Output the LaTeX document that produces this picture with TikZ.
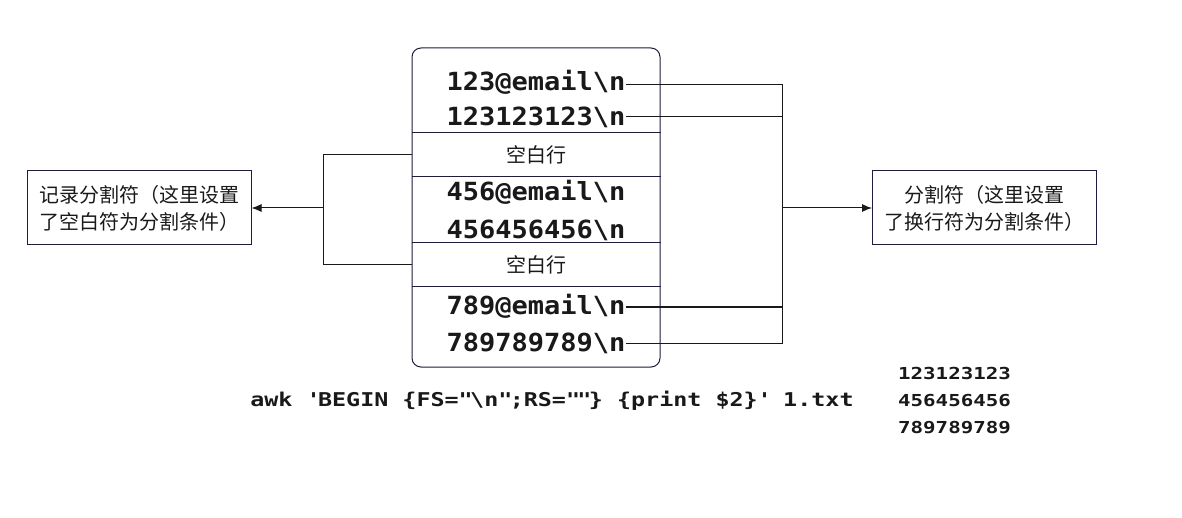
\documentclass[tikz,border=0pt]{standalone}
\usepackage{fontspec}
\usetikzlibrary{arrows.meta,calc}
\newfontfamily\cjk{Noto Sans CJK SC}
\newfontfamily\monoA[FakeStretch=1.08,UprightFont=*,BoldFont=* Bold]{DejaVu Sans Mono}
\newfontfamily\monoB[FakeStretch=1.23,UprightFont=*,BoldFont=* Bold]{DejaVu Sans Mono}
\newfontfamily\monoC[FakeStretch=1.26,UprightFont=*,BoldFont=* Bold]{DejaVu Sans Mono}
\definecolor{boxc}{RGB}{30,30,60}
\definecolor{txt}{RGB}{25,25,25}
\begin{document}
\begin{tikzpicture}[x=1pt,y=-1pt,
  boxline/.style={draw=boxc,line width=1pt},
  conn/.style={draw=txt,line width=1pt},
  arr/.style={conn,-{Latex[length=10pt,width=8pt]}},
  rowtxt/.style={font=\monoA\bfseries\fontsize{25}{25}\selectfont,text=txt,inner sep=0pt,text height=18pt,text depth=0pt},
  cjktxt/.style={font=\cjk\fontsize{20}{27}\selectfont,text=txt,align=center},
  sidebox/.style={boxline,minimum width=224pt,minimum height=74pt,inner sep=0pt},
  cmdtxt/.style={font=\monoB\bfseries\fontsize{19}{19}\selectfont,text=txt,inner sep=0pt},
  restxt/.style={font=\monoC\bfseries\fontsize{16.5}{16.5}\selectfont,text=txt,inner sep=0pt,text height=12pt,text depth=0pt}
]
\useasboundingbox[fill=white] (0,0) rectangle (1182,518);

% main box
\node[boxline,rounded corners=9pt,minimum width=248pt,minimum height=319pt,inner sep=0pt] (mainbox) at (536,207.5) {};
\foreach \yy in {133,177,243,287}{
  \draw[boxline] (mainbox.west |- 0,\yy) -- (mainbox.east |- 0,\yy);
}

% rows
\node[rowtxt] (r1) at (536,82) {123@email\textbackslash n};
\node[rowtxt] (r2) at (536,117) {123123123\textbackslash n};
\node[cjktxt] (b1) at (536,155) {空白行};
\node[rowtxt] (r3) at (536,192) {456@email\textbackslash n};
\node[rowtxt] (r4) at (536,230) {456456456\textbackslash n};
\node[cjktxt] (b2) at (536,265) {空白行};
\node[rowtxt] (r5) at (536,305) {789@email\textbackslash n};
\node[rowtxt] (r6) at (536,342) {789789789\textbackslash n};

% side boxes
\node[sidebox,cjktxt] (lbox) at (139,208) {记录分割符（这里设置\\了空白符为分割条件）};
\node[sidebox,cjktxt] (rbox) at (984.5,208) {分割符（这里设置\\了换行符为分割条件）};

% right bus
\coordinate (bus) at (782,208);
\draw[conn] ([yshift=-3pt]r1.east) -- ([yshift=-3pt]r1.east -| bus) -- ([yshift=-1pt]r6.east -| bus) -- ([yshift=-1pt]r6.east);
\draw[conn] (r2.east) -- (r2.east -| bus);
\draw[conn] ([yshift=-2pt]r5.east) -- ([yshift=-2pt]r5.east -| bus);
\draw[arr] (bus) -- (rbox.west);

% left bracket
\coordinate (lbus) at (323,208);
\draw[conn] (mainbox.west |- b1) -- (lbus |- b1) -- (lbus |- b2) -- (mainbox.west |- b2);
\draw[arr] (lbus) -- (lbox.east);

% command
\node[cmdtxt] (cmd) at (552,401) {awk \textquotesingle BEGIN \{FS=\textquotedbl\textbackslash n\textquotedbl;RS=\textquotedbl\textquotedbl\} \{print \$2\}\textquotesingle\ 1.txt};
\node[restxt] (o1) at (954.5,373) {123123123};
\node[restxt] (o2) at (954.5,400) {456456456};
\node[restxt] (o3) at (954.5,427) {789789789};
\end{tikzpicture}
\end{document}
